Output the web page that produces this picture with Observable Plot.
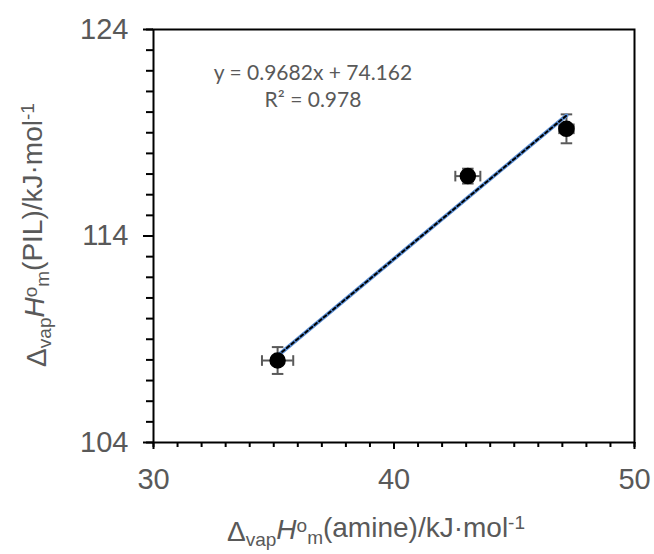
<!DOCTYPE html>
<html>
<head>
<meta charset="utf-8">
<script src="https://cdn.jsdelivr.net/npm/d3@7"></script>
<script src="https://cdn.jsdelivr.net/npm/@observablehq/plot@0.6"></script>
<style>
  html, body { margin: 0; padding: 0; background: #fff; }
  #chart { width: 654px; height: 554px; }
</style>
</head>
<body>
<div id="chart"></div>
<script>
// Vaporisation enthalpies: amine (x) vs protic ionic liquid (y), kJ/mol
const amine    = [35.16, 43.07, 47.17];
const pil      = [107.97, 116.9, 119.19];
const amineErr = [0.65, 0.52, 0.3];
const pilErr   = [0.65, 0.36, 0.7];

// Linear fit reported on the chart
const slope = 0.9682;
const intercept = 74.162;
const rSquared = 0.978;

const xMajor = [30, 40, 50];
const yMajor = [104, 114, 124];

const points = amine.map((x, i) => ({x, y: pil[i], ex: amineErr[i], ey: pilErr[i]}));
const fitX = [d3.min(amine), d3.max(amine)];
const fit = fitX.map(x => ({x, y: slope * x + intercept}));

const gray = "#595959";

// Short line symbols used as error-bar caps
const capV = {draw(ctx, size) { const h = Math.sqrt(size) / 2; ctx.moveTo(0, -h); ctx.lineTo(0, h); }};
const capH = {draw(ctx, size) { const h = Math.sqrt(size) / 2; ctx.moveTo(-h, 0); ctx.lineTo(h, 0); }};

const svg = Plot.plot({
  width: 654,
  height: 554,
  marginLeft: 153,
  marginRight: 20,
  marginTop: 29,
  marginBottom: 112,
  style: {fontFamily: "'Liberation Sans', Arial, sans-serif", background: "#fff"},
  x: {domain: [30, 50]},
  y: {domain: [104, 124]},
  marks: [
    // minor ticks every 1 kJ/mol
    Plot.axisX({ticks: d3.range(30, 51, 1), tickSize: 5, tickFormat: () => "", strokeWidth: 2, stroke: "#000", label: null}),
    Plot.axisY({ticks: d3.range(104, 125, 1), tickSize: 7, tickFormat: () => "", strokeWidth: 2, stroke: "#000", label: null}),
    // major ticks with labels
    Plot.axisX({ticks: xMajor, tickSize: 7, tickPadding: 19, fontSize: 29, fill: gray, stroke: "#000", strokeWidth: 2, label: null}),
    Plot.axisY({ticks: yMajor, tickSize: 10, tickPadding: 15, fontSize: 29, fill: gray, stroke: "#000", strokeWidth: 2, label: null}),
    Plot.frame({stroke: "#000", strokeWidth: 2}),
    // error bars
    Plot.ruleY(points, {y: "y", x1: d => d.x - d.ex, x2: d => d.x + d.ex, stroke: gray, strokeWidth: 2}),
    Plot.ruleX(points, {x: "x", y1: d => d.y - d.ey, y2: d => d.y + d.ey, stroke: gray, strokeWidth: 2}),
    Plot.dot(points, {x: d => d.x - d.ex, y: "y", symbol: capV, r: 6, stroke: gray, strokeWidth: 2, fill: "none"}),
    Plot.dot(points, {x: d => d.x + d.ex, y: "y", symbol: capV, r: 6, stroke: gray, strokeWidth: 2, fill: "none"}),
    Plot.dot(points, {x: "x", y: d => d.y - d.ey, symbol: capH, r: 6.5, stroke: gray, strokeWidth: 2, fill: "none"}),
    Plot.dot(points, {x: "x", y: d => d.y + d.ey, symbol: capH, r: 6.5, stroke: gray, strokeWidth: 2, fill: "none"}),
    // trend line: blue with black dashes on top
    Plot.line(fit, {x: "x", y: "y", stroke: "#5b8fd4", strokeWidth: 4}),
    Plot.line(fit, {x: "x", y: "y", stroke: "#000", strokeWidth: 2, strokeDasharray: "3,3"}),
    // data points
    Plot.dot(points, {x: "x", y: "y", r: 7.5, fill: "#000", stroke: "#000"})
  ]
});

document.getElementById("chart").appendChild(svg);

const s = d3.select(svg);

// Axis title with sub/superscripts
function writeTitle(sel, parts) {
  let shift = 0;
  parts.forEach(p => {
    const target = p.shift || 0;
    const t = sel.append("tspan").text(p.t);
    if (target !== shift) t.attr("dy", `${(target - shift).toFixed(2)}em`);
    if (p.size) t.attr("font-size", p.size);
    if (p.italic) t.attr("font-style", "italic");
    shift = target;
  });
}

const titleFont = 28;
const sub = 19;
const xTitle = s.append("text")
  .attr("x", 376).attr("y", 541)
  .attr("text-anchor", "middle")
  .attr("fill", gray).attr("font-size", titleFont)
  .attr("font-family", "'Liberation Sans', Arial, sans-serif");
writeTitle(xTitle, [
  {t: "\u0394"},
  {t: "vap", shift: 0.25, size: sub},
  {t: "H", italic: true},
  {t: "o", shift: -0.35, size: sub},
  {t: "m", shift: 0.25, size: sub},
  {t: "(amine)/kJ\u00b7mol"},
  {t: "-1", shift: -0.4, size: sub}
]);

const yTitle = s.append("text")
  .attr("transform", "translate(46,235) rotate(-90)")
  .attr("text-anchor", "middle")
  .attr("fill", gray).attr("font-size", titleFont)
  .attr("font-family", "'Liberation Sans', Arial, sans-serif");
writeTitle(yTitle, [
  {t: "\u0394"},
  {t: "vap", shift: 0.25, size: sub},
  {t: "H", italic: true},
  {t: "o", shift: -0.35, size: sub},
  {t: "m", shift: 0.25, size: sub},
  {t: "(PIL)/kJ\u00b7mol"},
  {t: "-1", shift: -0.4, size: sub}
]);

// Fit equation and coefficient of determination
const eq = s.append("g")
  .attr("fill", gray).attr("font-size", 21)
  .attr("font-family", "Lato, 'Open Sans', sans-serif")
  .attr("text-anchor", "middle");
eq.append("text").attr("x", 313).attr("y", 80)
  .text(`y = ${slope}x + ${intercept}`);
eq.append("text").attr("x", 313).attr("y", 107)
  .text(`R\u00b2 = ${rSquared}`);
</script>
</body>
</html>
